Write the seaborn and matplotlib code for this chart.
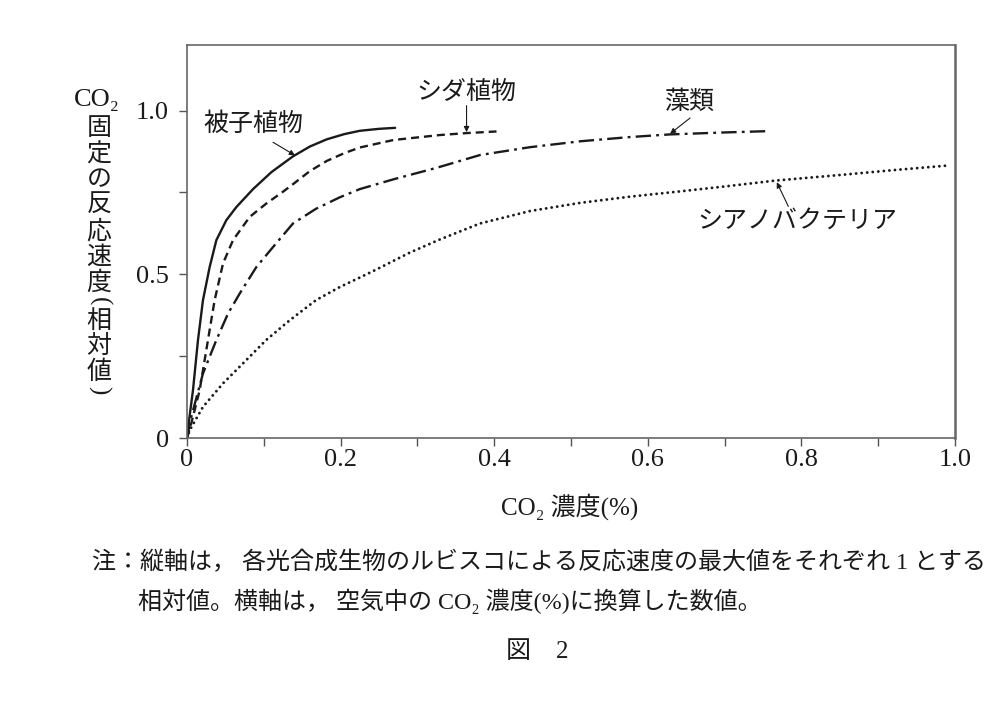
import numpy as np
import pandas as pd
import matplotlib
matplotlib.use("Agg")
import matplotlib.pyplot as plt
import seaborn as sns

# values (CO2 concentration %, relative rate)
species = ["被子植物", "シダ植物", "藻類", "シアノバクテリア"]

angio_x = [0, 0.003, 0.0078, 0.0143, 0.0208, 0.0295, 0.0382, 0.0512, 0.0642,
           0.086, 0.11, 0.138, 0.16, 0.182, 0.205, 0.225, 0.25, 0.271]
angio_y = [0, 0.06, 0.146, 0.299, 0.421, 0.522, 0.604, 0.665, 0.705,
           0.760, 0.812, 0.860, 0.890, 0.912, 0.928, 0.938, 0.944, 0.947]

fern_x = [0, 0.0056, 0.0165, 0.0273, 0.036, 0.0469, 0.0599, 0.0816, 0.1033,
          0.125, 0.138, 0.16, 0.182, 0.205, 0.225, 0.269, 0.329, 0.364, 0.403]
fern_y = [0, 0.045, 0.146, 0.299, 0.421, 0.533, 0.604, 0.675, 0.716,
          0.752, 0.775, 0.815, 0.846, 0.870, 0.887, 0.910, 0.925, 0.931, 0.936]

algae_x = [0, 0.0056, 0.0208, 0.0382, 0.0534, 0.0686, 0.0903, 0.112, 0.138,
           0.168, 0.199, 0.225, 0.269, 0.325, 0.3815, 0.4466, 0.512, 0.577,
           0.629, 0.70, 0.757]
algae_y = [0, 0.065, 0.197, 0.299, 0.380, 0.441, 0.522, 0.583, 0.655,
           0.700, 0.735, 0.760, 0.790, 0.825, 0.864, 0.888, 0.906, 0.919,
           0.927, 0.933, 0.937]

cyano_x = [0, 0.0035, 0.0208, 0.047, 0.073, 0.103, 0.134, 0.168, 0.199,
           0.225, 0.247, 0.29, 0.329, 0.3815, 0.4466, 0.512, 0.577, 0.638,
           0.70, 0.766, 0.85, 0.92, 0.991]
cyano_y = [0, 0.024, 0.095, 0.167, 0.228, 0.299, 0.360, 0.421, 0.461,
           0.490, 0.515, 0.566, 0.606, 0.655, 0.693, 0.718, 0.737, 0.752,
           0.768, 0.786, 0.803, 0.818, 0.832]

x_ticks = [0, 0.2, 0.4, 0.6, 0.8, 1.0]
x_ticklabels = ["0", "0.2", "0.4", "0.6", "0.8", "1.0"]
y_ticks = [0, 0.5, 1.0]
y_ticklabels = ["0", "0.5", "1.0"]

ylabel_chars = ["固", "定", "の", "反", "応", "速", "度", "(", "相", "対", "値", ")"]
note1 = "注：縦軸は， 各光合成生物のルビスコによる反応速度の最大値をそれぞれ 1 とする"
note2 = "相対値。横軸は， 空気中の CO₂ 濃度(%)に換算した数値。"

frames = []
for name, xs, ys in zip(species,
                        [angio_x, fern_x, algae_x, cyano_x],
                        [angio_y, fern_y, algae_y, cyano_y]):
    frames.append(pd.DataFrame({"co2": xs, "rate": ys, "species": name}))
df = pd.concat(frames, ignore_index=True)

sns.set_theme(style="ticks")
plt.rcParams["font.family"] = ["Liberation Serif", "Noto Sans CJK JP", "DejaVu Sans"]

fig = plt.figure(figsize=(10, 7.14), dpi=100)
ax = fig.add_axes([0.187, 1 - 438 / 714, 0.768, 393 / 714])

dashes = {
    "被子植物": "",
    "シダ植物": (3.4, 2.1),
    "藻類": (6.5, 2.2, 1.2, 2.2),
    "シアノバクテリア": (0.01, 1.9),
}
palette = {name: "#1a1a1a" for name in species}
sns.lineplot(data=df, x="co2", y="rate", hue="species", style="species",
             hue_order=species, style_order=species, palette=palette,
             dashes=dashes, linewidth=1.7, estimator=None, sort=False,
             legend=False, ax=ax)
# round dots for the cyanobacteria curve
for line in ax.lines:
    if len(line.get_xdata()) == len(cyano_x):
        line.set_dash_capstyle("round")
        line.set_linewidth(2.1)

ax.set_xlim(0, 1.0)
ax.set_ylim(0, 1.2)
ax.set_xticks(x_ticks)
ax.set_xticklabels(x_ticklabels)
ax.set_xticks(np.arange(0.1, 1.0, 0.2), minor=True)
ax.set_yticks(y_ticks)
ax.set_yticklabels(y_ticklabels)
ax.set_yticks([0.25, 0.75], minor=True)
ax.set_xlabel("")
ax.set_ylabel("")
ax.tick_params(which="both", direction="out", length=6, width=1.0,
               color="#555555", labelsize=19, labelcolor="#1a1a1a")
ax.tick_params(axis="x", which="both", pad=2)
ax.tick_params(axis="y", which="both", pad=7)
for side in ["left", "bottom", "top", "right"]:
    ax.spines[side].set_color("#666666")
    ax.spines[side].set_linewidth(1.2)
ax.spines["right"].set_linewidth(1.8)

# curve labels with arrows
label_kw = dict(fontsize=18, ha="center", va="center", color="#1a1a1a")
arrow_kw = dict(arrowstyle="-|>", color="#1a1a1a", lw=0.8,
                mutation_scale=8, shrinkA=0, shrinkB=0)
ax.text(0.086, 0.957, "被子植物", **label_kw)
ax.annotate("", xy=(0.1406, 0.863), xytext=(0.112, 0.903), arrowprops=arrow_kw)
ax.text(0.364, 1.056, "シダ植物", **label_kw)
ax.annotate("", xy=(0.364, 0.934), xytext=(0.364, 1.015), arrowprops=arrow_kw)
ax.text(0.655, 1.025, "藻類", **label_kw)
ax.annotate("", xy=(0.629, 0.929), xytext=(0.655, 0.977), arrowprops=arrow_kw)
ax.text(0.795, 0.659, "シアノバクテリア", **label_kw)
ax.annotate("", xy=(0.768, 0.781), xytext=(0.783, 0.707), arrowprops=arrow_kw)

# vertical y-axis label, written top to bottom
fig.text(0.097, 1 - 100 / 714, "CO₂", fontsize=19, ha="center", va="center",
         color="#1a1a1a")
ypos = 129 - 25.7
prev_paren = False
for ch in ylabel_chars:
    is_paren = ch in ("(", ")")
    if is_paren:
        ypos += 18
    elif prev_paren:
        ypos += 20
    else:
        ypos += 25.7
    t = fig.text(0.099, 1 - ypos / 714, ch, fontsize=18, ha="center",
                 va="center", color="#1a1a1a")
    if is_paren:
        t.set_rotation(-90)
    prev_paren = is_paren

fig.text(0.570, 1 - 507 / 714, "CO₂ 濃度(%)", fontsize=18, ha="center",
         va="center", color="#1a1a1a")

fig.text(0.092, 1 - 563 / 714, note1, fontsize=17.3, ha="left", va="center",
         color="#1a1a1a")
fig.text(0.138, 1 - 601 / 714, note2, fontsize=17.3, ha="left", va="center",
         color="#1a1a1a")
fig.text(0.537, 1 - 652 / 714, "図　2", fontsize=18, ha="center", va="center",
         color="#1a1a1a")

fig.savefig("out.png", dpi=100)
